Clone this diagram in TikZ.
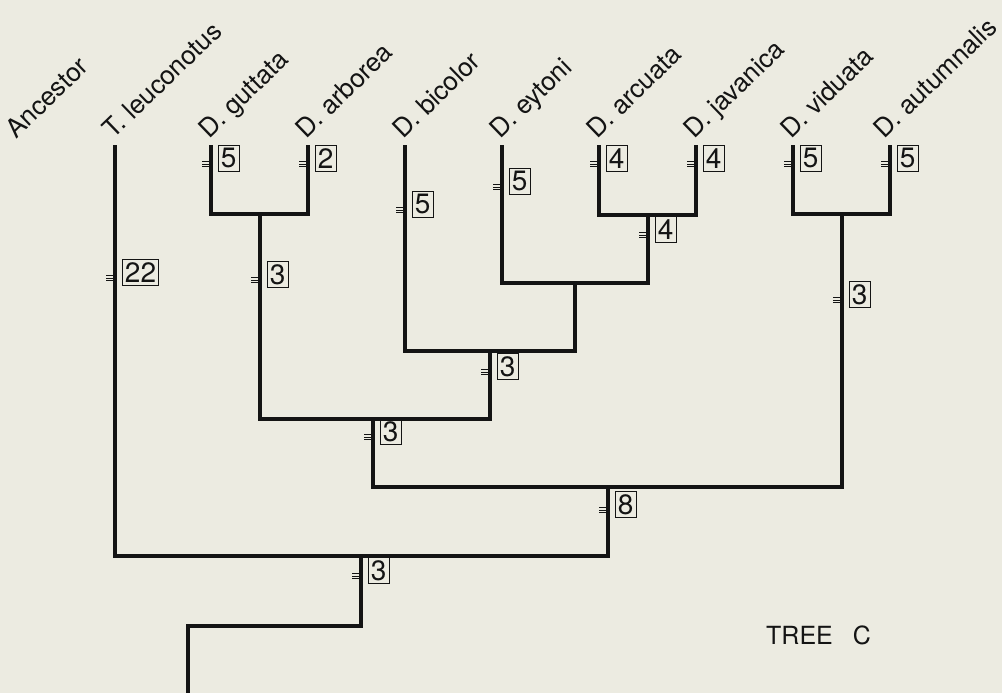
\documentclass[tikz,border=0pt]{standalone}
\usepackage{fontspec}
\setmainfont{TeX Gyre Heros}
\definecolor{paper}{RGB}{236,235,225}
\definecolor{ink}{RGB}{20,20,20}
\tikzset{
  branch/.style={draw=ink, line width=3.8pt, line join=miter},
  numbox/.style={draw=ink, line width=0.9pt, inner xsep=2.5pt, inner ysep=0pt, minimum height=26pt, font=\fontsize{28}{30}\selectfont, text=ink},
  hatchline/.style={draw=ink, line width=0.9pt},
  lab/.style={rotate=44, anchor=base west, inner sep=0pt, font=\fontsize{26}{30}\selectfont, text=ink},
}
\newcommand\brmark[4]{%
  \node[numbox, anchor=north west] (m-#1) at (#2+7,#3) {#4};
  \draw[hatchline] (#2-9,#3+16.5) -- (#2+1,#3+16.5);
  \draw[hatchline] (#2-9,#3+19) -- (#2+1,#3+19);
  \draw[hatchline] (#2-9,#3+21.5) -- (#2+1,#3+21.5);
}
\begin{document}
\begin{tikzpicture}[x=1pt,y=-1pt]
\useasboundingbox (0,0) rectangle (1002,693);
\fill[paper] (0,0) rectangle (1002,693);
% tips
\coordinate (tl) at (115,145);
\coordinate (gu) at (211,145);
\coordinate (ar) at (308,145);
\coordinate (bi) at (405,145);
\coordinate (ey) at (502,145);
\coordinate (ac) at (599,145);
\coordinate (jv) at (696,145);
\coordinate (vi) at (793,145);
\coordinate (au) at (890,145);
\coordinate (root) at (188,694);
% joins
\coordinate (j1) at (260,214);
\coordinate (j2) at (648,215);
\coordinate (j3) at (575,283);
\coordinate (j4) at (490,351);
\coordinate (j5) at (373,419);
\coordinate (j6) at (842,214);
\coordinate (j7) at (608,487);
\coordinate (j8) at (361,556);
\coordinate (j9) at (275,626);
% branches
\draw[branch] (gu) |- (j1) -| (ar);
\draw[branch] (ac) |- (j2) -| (jv);
\draw[branch] (ey) |- (j3) -| (j2);
\draw[branch] (bi) |- (j4) -| (j3);
\draw[branch] (j1) |- (j5) -| (j4);
\draw[branch] (vi) |- (j6) -| (au);
\draw[branch] (j5) |- (j7) -| (j6);
\draw[branch] (tl) |- (j8) -| (j7);
\draw[branch] (root) |- (j9) -| (j8);
% labels
\node[lab] (l-an) at (16,140) {Ancestor};
\node[lab] (l-tl) at (113,140) {T. leuconotus};
\node[lab] (l-gu) at (209,140) {D. guttata};
\node[lab] (l-ar) at (306,140) {D. arborea};
\node[lab] (l-bi) at (403,140) {D. bicolor};
\node[lab] (l-ey) at (500,140) {D. eytoni};
\node[lab] (l-ac) at (597,140) {D. arcuata};
\node[lab] (l-jv) at (694,140) {D. javanica};
\node[lab] (l-vi) at (791,140) {D. viduata};
\node[lab] (l-au) at (884,140) {D. autumnalis};
% character-change marks
\brmark{gu}{211}{145}{5}
\brmark{ar}{308}{145}{2}
\brmark{bi}{405}{191}{5}
\brmark{ey}{502}{168}{5}
\brmark{ac}{599}{145}{4}
\brmark{jv}{696}{145}{4}
\brmark{vi}{793}{145}{5}
\brmark{au}{890}{145}{5}
\brmark{j2}{648}{216}{4}
\brmark{tl}{115}{259}{22}
\brmark{j1}{260}{261}{3}
\brmark{j6}{842}{281}{3}
\brmark{j4}{490}{353}{3}
\brmark{j5}{373}{418}{3}
\brmark{j7}{608}{491}{8}
\brmark{j8}{361}{557}{3}
% title
\node[anchor=base west, inner sep=0pt, font=\fontsize{25}{30}\selectfont, text=ink] (title) at (766,644) {TREE\hspace{20pt}C};
\end{tikzpicture}
\end{document}
